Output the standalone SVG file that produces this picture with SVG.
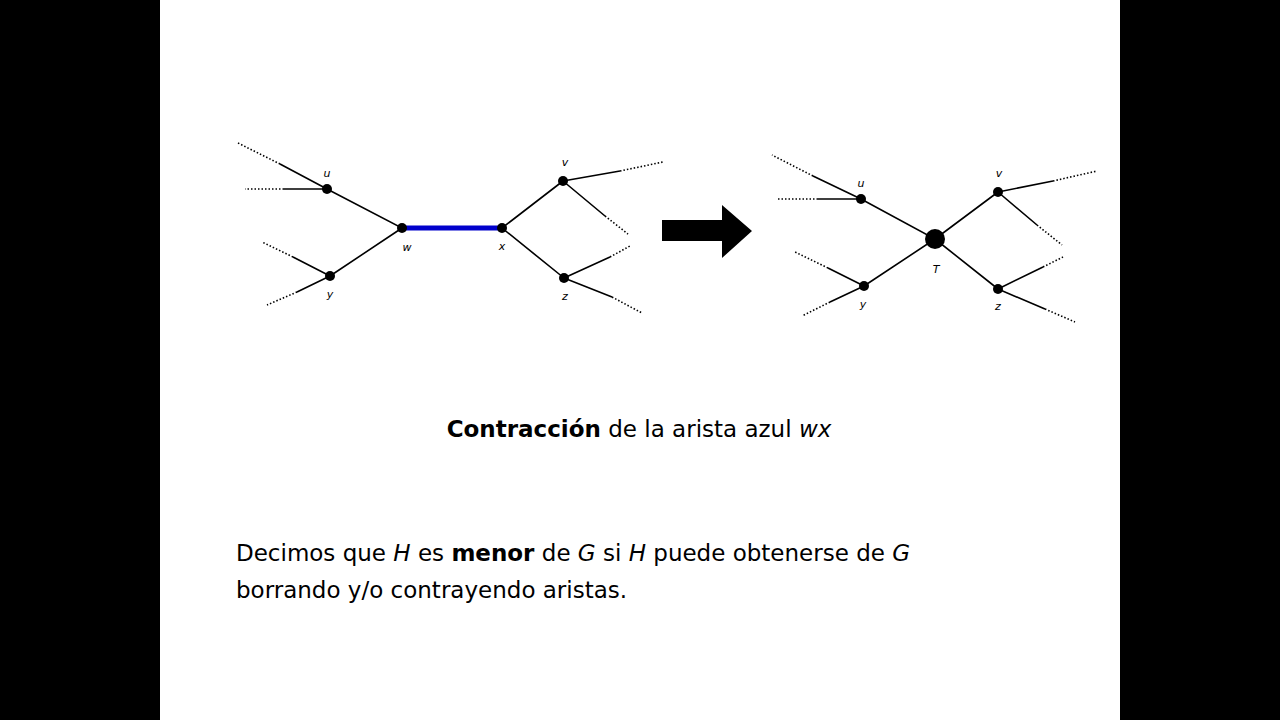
<svg xmlns="http://www.w3.org/2000/svg" width="1280" height="720" viewBox="0 0 1280 720">
<style>
.s{stroke:#000;stroke-width:1.6;fill:none}
.d{stroke:#000;stroke-width:1.6;fill:none;stroke-dasharray:1.5 2}
.n{fill:#000}
.l{font-family:"DejaVu Sans","Liberation Sans",sans-serif;font-style:italic;font-size:11px;text-anchor:middle}
.t{font-family:"DejaVu Sans","Liberation Sans",sans-serif;font-size:23px}
</style>
<rect width="1280" height="720" fill="#000"/>
<rect x="160" y="0" width="960" height="720" fill="#fff"/>
<g id="connectors">
<line x1="402" y1="228" x2="502" y2="228" stroke="#0000cc" stroke-width="5"/>
<path class="s" d="M327 189L402 228L330 276M502 228L563 181M502 228L564 278M327 189L280 164M327 189L284 189M330 276L293 257M330 276L297 292M563 181L620 171M563 181L605 216M564 278L610 257M564 278L612 297"/>
<path class="d" d="M280 164L238 143M284 189L245 189M293 257L262 242M297 292L267 305M620 171L663 162M605 216L628 234M610 257L630 246M612 297L642 313"/>
<path class="s" d="M861 199L935 239L864 286M935 239L998 192M935 239L998 289M861 199L813 176M861 199L818 199M864 286L828 268M864 286L830 302M998 192L1053 181M998 192L1037 225M998 289L1043 267M998 289L1045 309"/>
<path class="d" d="M813 176L772 155M818 199L777 199M828 268L795 252M830 302L802 316M1053 181L1097 171M1037 225L1062 245M1043 267L1063 257M1045 309L1075 322"/>
<polygon points="662,220 722,220 722,205 752,231 722,258 722,241 662,241" fill="#000"/>
</g>
<g id="u1"><circle class="n" cx="327" cy="189" r="5"/><text class="l" x="327" y="177">u</text></g>
<g id="w"><circle class="n" cx="402" cy="228" r="5"/><text class="l" x="407" y="251">w</text></g>
<g id="x"><circle class="n" cx="502" cy="228" r="5"/><text class="l" x="502" y="250">x</text></g>
<g id="y1"><circle class="n" cx="330" cy="276" r="5"/><text class="l" x="330" y="298">y</text></g>
<g id="v1"><circle class="n" cx="563" cy="181" r="5"/><text class="l" x="565" y="166">v</text></g>
<g id="z1"><circle class="n" cx="564" cy="278" r="5"/><text class="l" x="565" y="300">z</text></g>
<g id="u2"><circle class="n" cx="861" cy="199" r="5"/><text class="l" x="861" y="187">u</text></g>
<g id="T"><circle class="n" cx="935" cy="239" r="10"/><text class="l" x="936" y="273" font-size="13">T</text></g>
<g id="v2"><circle class="n" cx="998" cy="192" r="5"/><text class="l" x="999" y="177">v</text></g>
<g id="y2"><circle class="n" cx="864" cy="286" r="5"/><text class="l" x="863" y="308">y</text></g>
<g id="z2"><circle class="n" cx="998" cy="289" r="5"/><text class="l" x="998" y="310">z</text></g>
<text class="t" x="639" y="437" text-anchor="middle"><tspan font-weight="bold">Contracción</tspan> de la arista azul <tspan font-style="italic">wx</tspan></text>
<text class="t" x="236" y="561">Decimos que <tspan font-style="italic">H</tspan> es <tspan font-weight="bold">menor</tspan> de <tspan font-style="italic">G</tspan> si <tspan font-style="italic">H</tspan> puede obtenerse de <tspan font-style="italic">G</tspan></text>
<text class="t" x="236" y="598">borrando y/o contrayendo aristas.</text>
</svg>
